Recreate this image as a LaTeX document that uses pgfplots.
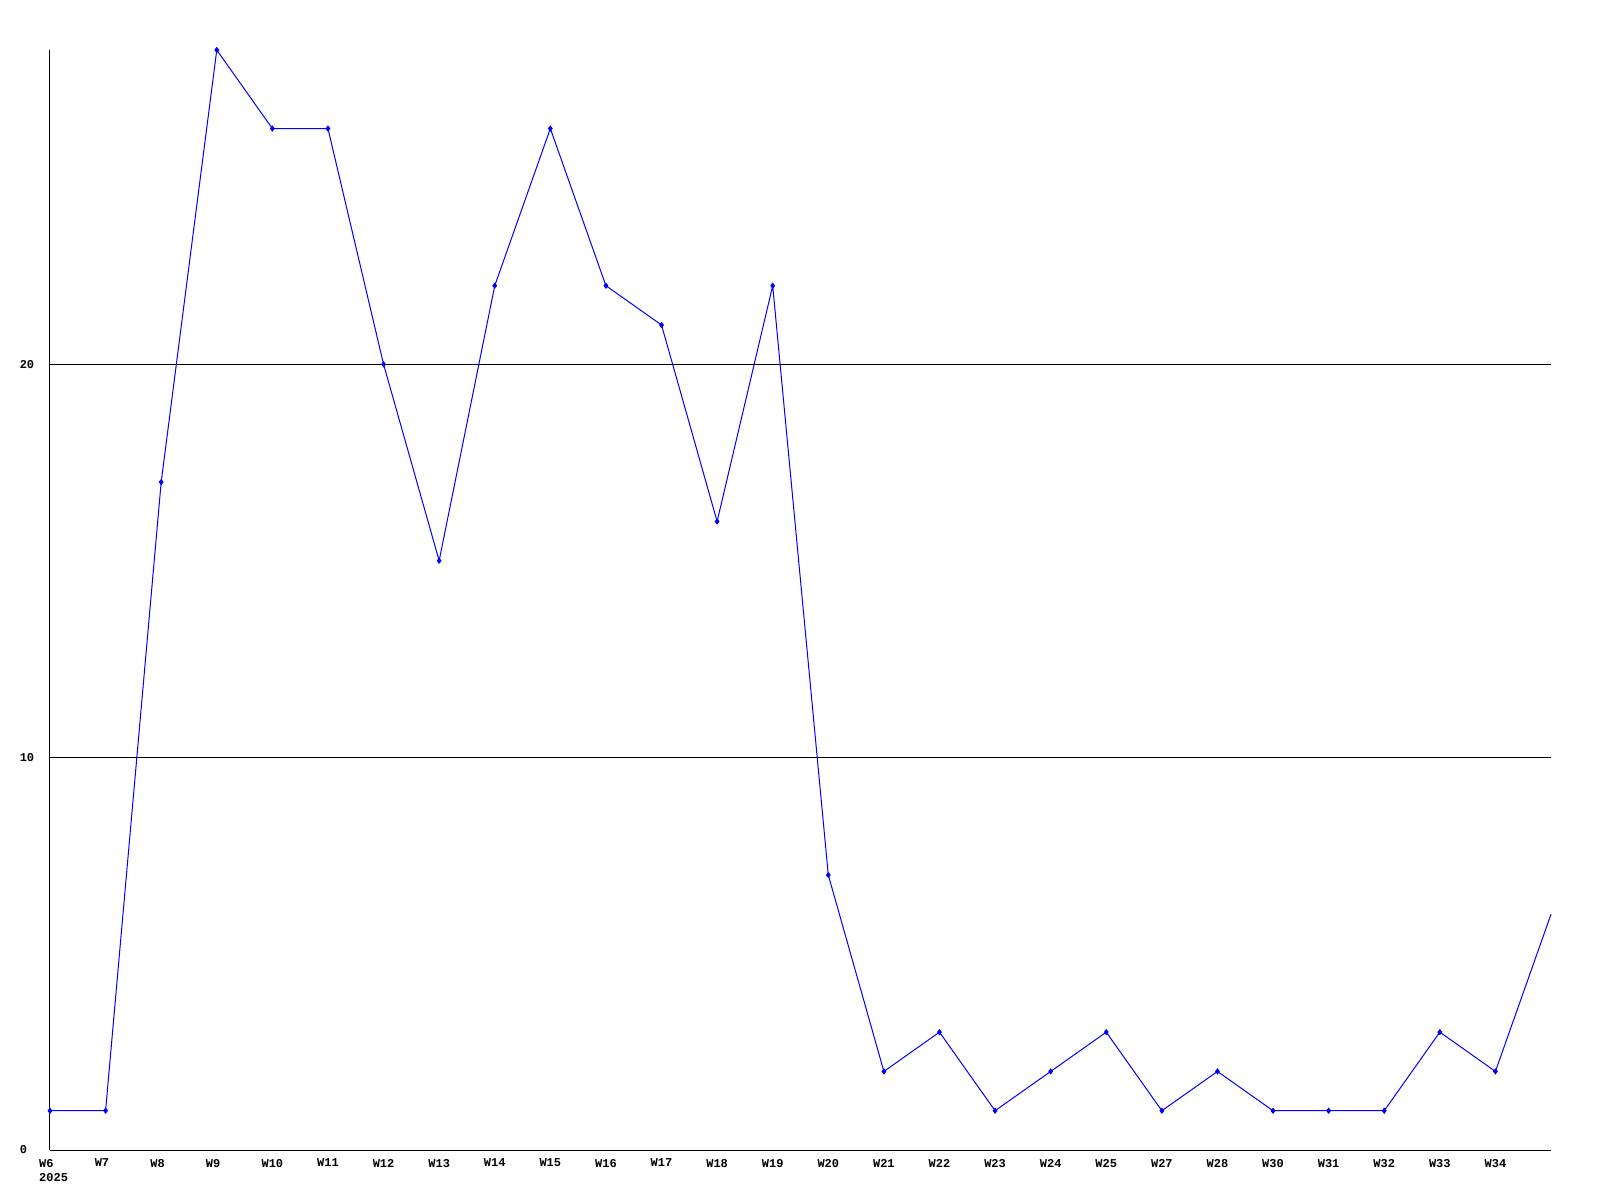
\documentclass[border=0pt]{standalone}
\usepackage{pgfplots}
\pgfplotsset{compat=1.18}
\usepackage{fontspec}
\setmainfont{Liberation Mono}
\begin{document}
\begin{tikzpicture}
\begin{axis}[
  at={(0,0)}, anchor=south west,
  scale only axis,
  width=750.5pt, height=550pt,
  xmin=0, xmax=27, ymin=0, ymax=28,
  axis x line*=bottom, axis y line*=left,
  axis line style={black, line width=0.5pt, -},
  xtick={0,...,26},
  xticklabels={{W6\\2025},W7,W8,W9,W10,W11,W12,W13,W14,W15,W16,W17,W18,W19,W20,W21,W22,W23,W24,W25,W27,W28,W30,W31,W32,W33,W34},
  xticklabel style={font=\fontsize{6}{7}\selectfont\bfseries, align=left, anchor=north west, inner xsep=0pt, xshift=-5.6pt, yshift=-1pt},
  ytick={0,10,20},
  yticklabel style={font=\fontsize{6}{7}\selectfont\bfseries, anchor=west, inner xsep=0pt, xshift=-15.3pt},
  /pgf/number format/assume math mode=true,
  major tick length=0pt,
  ymajorgrids, grid style={black, line width=0.5pt},
  clip=false,
]
\addplot[blue, line width=0.5pt, mark=diamond*, mark size=1.2pt, mark options={blue}, mark indices={1,...,27}] coordinates {
(0,1)(1,1)(2,17)(3,28)(4,26)(5,26)(6,20)(7,15)(8,22)(9,26)(10,22)(11,21)(12,16)(13,22)(14,7)(15,2)(16,3)(17,1)(18,2)(19,3)(20,1)(21,2)(22,1)(23,1)(24,1)(25,3)(26,2)(27,6)
};
\end{axis}
\path[use as bounding box] (-25pt,-25pt) rectangle (775pt,575pt);
\end{tikzpicture}
\end{document}
